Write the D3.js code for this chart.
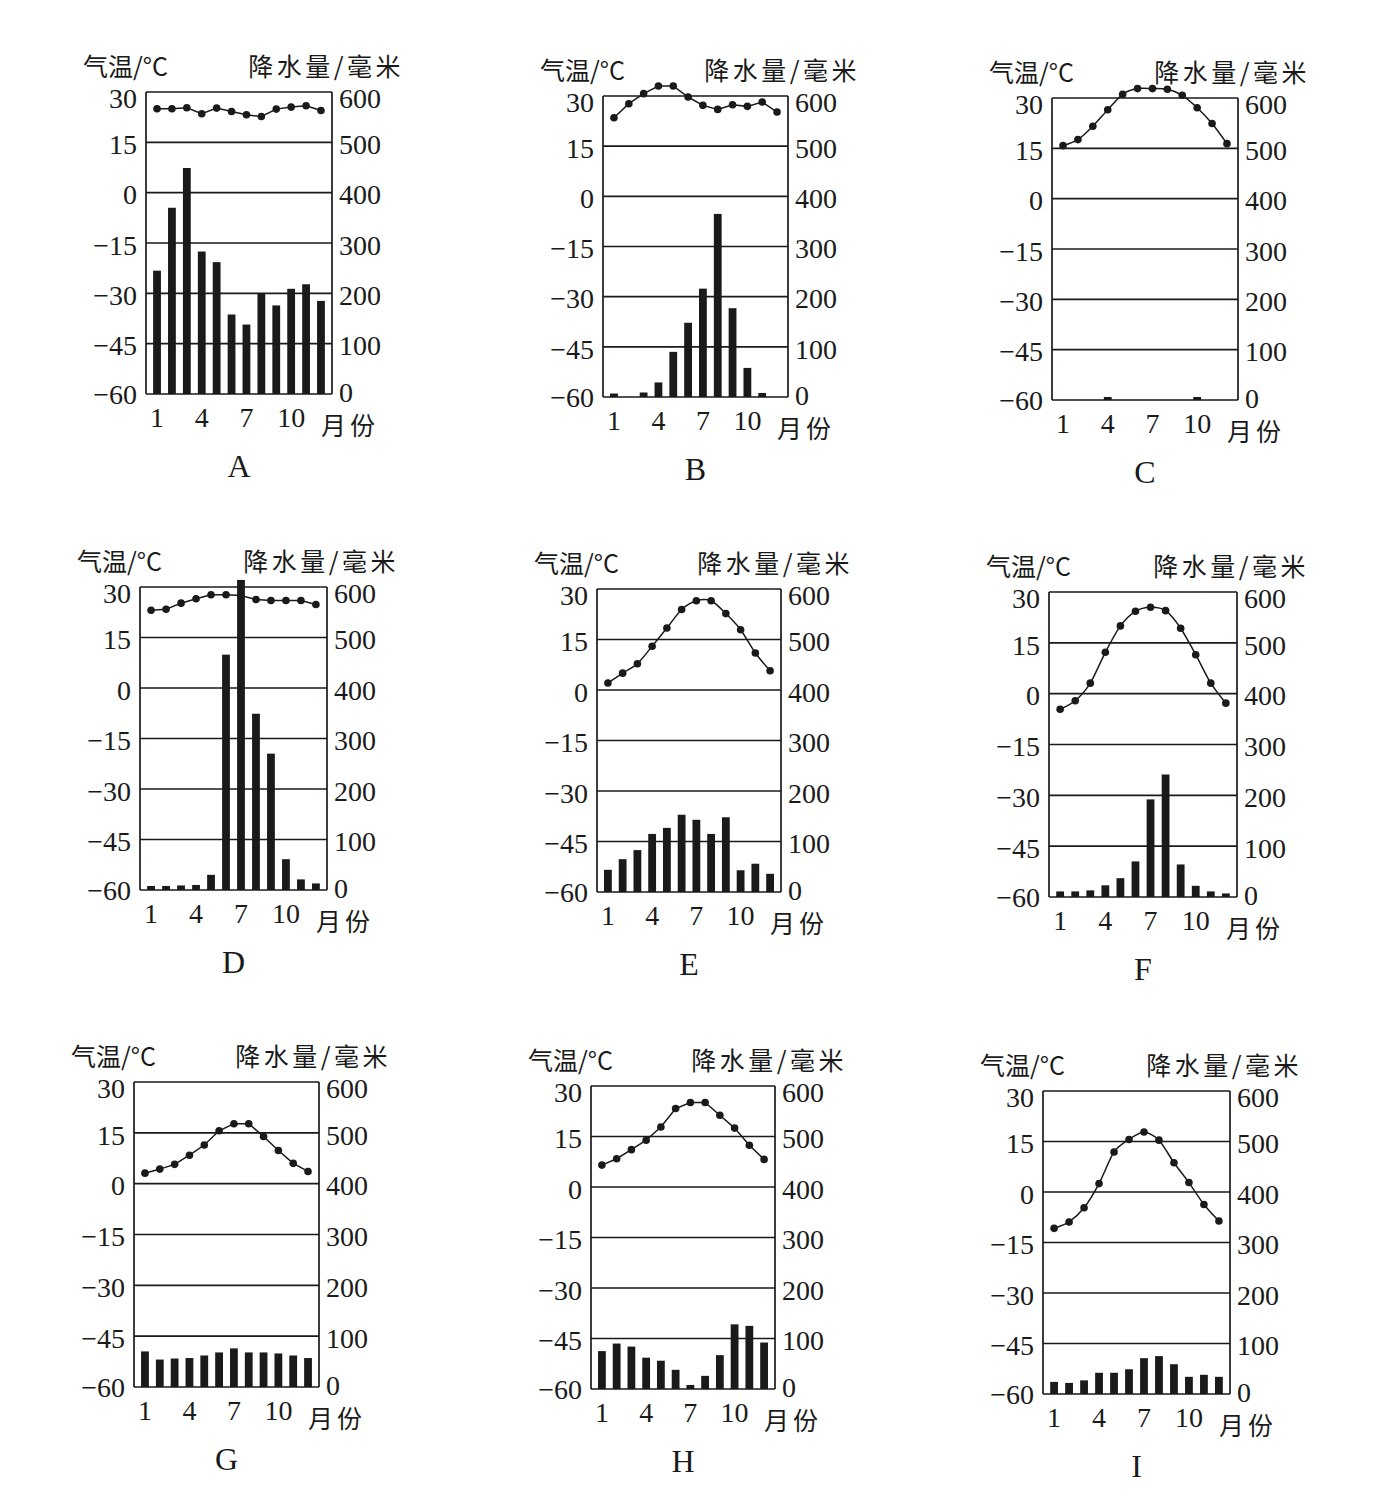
<!DOCTYPE html>
<html>
<head>
<meta charset="utf-8">
<script src="https://cdn.jsdelivr.net/npm/d3@7/dist/d3.min.js"></script>
<style>
  html, body { margin: 0; padding: 0; background: #fff; }
  svg { display: block; }
  .num { font-family: "Liberation Serif", "Times New Roman", serif; font-size: 28px; fill: #1a1a1a; }
  .cjk { font-family: "Noto Sans CJK SC", sans-serif; font-weight: 400; font-size: 25px; fill: #1a1a1a; }
  .letter { font-family: "Liberation Serif", "Times New Roman", serif; font-size: 32px; fill: #1a1a1a; }
</style>
</head>
<body>
<svg id="chart" width="1388" height="1510"></svg>
<script>
// ---------- data ----------
const months = [1,2,3,4,5,6,7,8,9,10,11,12];
const monthTicks = [1,4,7,10];
const tempTicks = [30,15,0,-15,-30,-45,-60];
const precTicks = [600,500,400,300,200,100,0];
const stationNames = ["A","B","C","D","E","F","G","H","I"];

const tempA = [25.0,25.0,25.3,23.5,25.2,24.2,23.2,22.7,24.9,25.5,25.9,24.5];
const precA = [245,370,449,283,262,158,138,199,176,209,218,185];

const tempB = [23.5,27.7,30.7,33.0,33.0,29.7,27.2,26.0,27.4,26.9,28.2,25.2];
const precB = [7,0,9,29,90,148,216,365,177,58,8,0];

const tempC = [15.8,17.6,21.6,26.5,31.1,32.8,32.8,32.6,30.8,27.1,22.4,16.4];
const precC = [0,0,0,6,0,0,0,0,0,6,0,0];

const tempD = [23.1,23.4,25.2,26.5,27.7,27.7,27.5,26.3,26.0,26.0,26.0,24.8];
const precD = [8,8,9,10,30,466,614,349,270,61,21,13];

const tempE = [2.1,5.0,7.8,13.0,18.4,23.9,26.5,26.5,22.7,17.9,11.0,5.7];
const precE = [44,65,83,115,127,153,143,115,148,43,56,36];

const tempF = [-4.6,-2.1,3.1,12.2,20.0,24.3,25.5,24.5,19.3,11.5,3.1,-2.8];
const precF = [11,11,13,23,37,70,192,241,64,22,11,7];

const tempG = [3.1,4.3,5.7,8.4,11.4,15.6,17.7,17.7,13.9,9.8,6.0,3.6];
const precG = [70,54,56,57,62,68,76,68,68,66,62,57];

const tempH = [6.5,8.4,11.1,13.9,17.8,23.3,25.1,25.1,21.3,17.5,12.4,8.2];
const precH = [75,90,84,62,56,38,8,26,67,128,125,92];

const tempI = [-10.8,-8.9,-4.7,2.5,11.9,15.6,17.8,15.4,8.7,2.8,-3.7,-8.6];
const precI = [24,22,27,42,42,49,71,75,59,34,38,34];

const temps = [tempA,tempB,tempC,tempD,tempE,tempF,tempG,tempH,tempI];
const precs = [precA,precB,precC,precD,precE,precF,precG,precH,precI];

// ---------- layout (positions / styles) ----------
const layout = [
  {x:146, y:92,  w:186, h:302, smooth:false},
  {x:603, y:96,  w:185, h:301, smooth:false},
  {x:1052,y:98,  w:186, h:302, smooth:true},
  {x:140, y:587, w:187, h:303, smooth:false},
  {x:597, y:589, w:184, h:303, smooth:true},
  {x:1049,y:592, w:188, h:305, smooth:true},
  {x:134, y:1082,w:185, h:305, smooth:false},
  {x:591, y:1086,w:184, h:303, smooth:false},
  {x:1043,y:1091,w:187, h:303, smooth:true}
];

const ink = "#1a1a1a";
const svg = d3.select("#chart");
const fmt = v => (v < 0 ? "\u2212" + Math.abs(v) : String(v));

layout.forEach((L, i) => {
  const g = svg.append("g").attr("transform", `translate(${L.x},${L.y})`);
  const x = d3.scalePoint().domain(months).range([0, L.w]).padding(0.74);
  const yT = d3.scaleLinear().domain([-60, 30]).range([L.h, 0]);
  const yP = d3.scaleLinear().domain([0, 600]).range([L.h, 0]);

  // horizontal grid lines (including top & bottom frame)
  g.selectAll("line.grid").data(tempTicks).join("line")
    .attr("x1", 0).attr("x2", L.w)
    .attr("y1", d => yT(d)).attr("y2", d => yT(d))
    .attr("stroke", ink).attr("stroke-width", 1.7);
  // vertical axes
  [0, L.w].forEach(xx => g.append("line")
    .attr("x1", xx).attr("x2", xx).attr("y1", 0).attr("y2", L.h)
    .attr("stroke", ink).attr("stroke-width", 1.7));

  // bars
  const bw = 7.8;
  g.selectAll("rect.bar").data(precs[i].map((p, k) => ({m: months[k], p})).filter(d => d.p > 0))
    .join("rect")
    .attr("x", d => x(d.m) - bw / 2)
    .attr("width", bw)
    .attr("y", d => yP(d.p))
    .attr("height", d => yP(0) - yP(d.p))
    .attr("fill", ink);

  // temperature line
  const line = d3.line()
    .x((d, k) => x(months[k]))
    .y(d => yT(d))
    .curve(L.smooth ? d3.curveCardinal.tension(0.2) : d3.curveLinear);
  g.append("path").datum(temps[i]).attr("d", line)
    .attr("fill", "none").attr("stroke", ink).attr("stroke-width", 1.5);
  g.selectAll("circle.dot").data(temps[i]).join("circle")
    .attr("cx", (d, k) => x(months[k])).attr("cy", d => yT(d))
    .attr("r", 3.8).attr("fill", ink);

  // left tick labels
  g.selectAll("text.lt").data(tempTicks).join("text")
    .attr("class", "num").attr("text-anchor", "end")
    .attr("x", -9).attr("y", d => yT(d) + (d === 30 ? 6 : (d === -60 ? 0 : 2))).attr("dy", "0.35em")
    .text(fmt);
  // right tick labels
  g.selectAll("text.rt").data(precTicks).join("text")
    .attr("class", "num").attr("text-anchor", "start")
    .attr("x", L.w + 7).attr("y", d => yP(d) + (d === 600 ? 6 : (d === 0 ? -2 : 2))).attr("dy", "0.35em")
    .text(d => String(d));
  // month labels
  g.selectAll("text.mt").data(monthTicks).join("text")
    .attr("class", "num").attr("text-anchor", "middle")
    .attr("x", d => x(d)).attr("y", L.h + 33)
    .text(d => String(d));
  g.append("text").attr("class", "cjk").attr("x", L.w - 11).attr("y", L.h + 41)
    .attr("letter-spacing", "4px").text("月份");

  // headers
  g.append("text").attr("class", "cjk").attr("x", -63).attr("y", -16).text("气温/°C");
  g.append("text").attr("class", "cjk").attr("text-anchor", "end")
    .attr("x", L.w + 72).attr("y", -16).attr("letter-spacing", "3.5px").text("降水量/毫米");

  // station letter
  g.append("text").attr("class", "letter").attr("text-anchor", "middle")
    .attr("x", L.w / 2).attr("y", L.h + 83).text(stationNames[i]);
});
</script>
</body>
</html>
